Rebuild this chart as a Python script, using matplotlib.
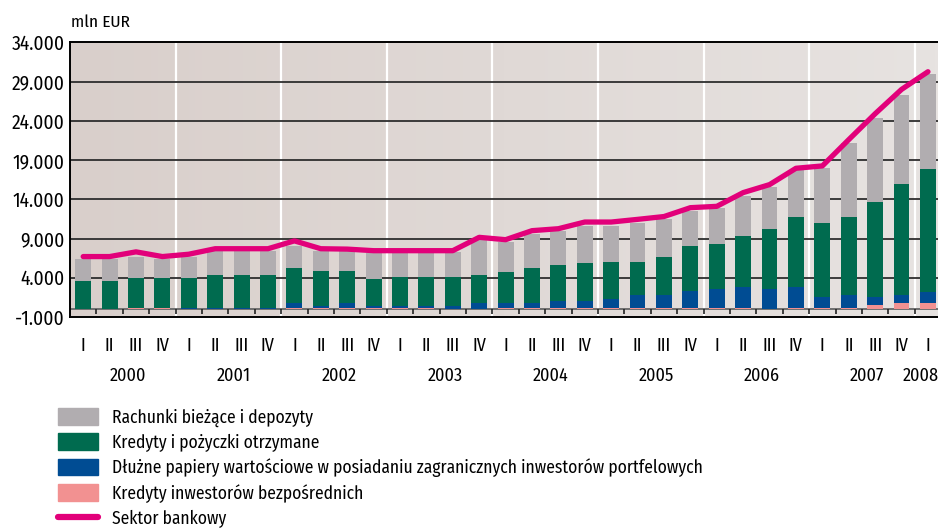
import numpy as np
import matplotlib
matplotlib.use('Agg')
import matplotlib.pyplot as plt
from matplotlib import font_manager as fm
from matplotlib.colors import LinearSegmentedColormap
from matplotlib.patches import Patch
from matplotlib.lines import Line2D

# a condensed sans if one is around, else Liberation Sans
available = set(f.name for f in fm.fontManager.ttflist)
candidates = ['Liberation Sans Narrow', 'Fira Sans Condensed', 'Roboto Condensed',
              'PT Sans Narrow', 'Open Sans Condensed', 'Encode Sans Condensed',
              'Barlow Semi Condensed', 'Asap Condensed', 'IBM Plex Sans Condensed']
font = next((c for c in candidates if c in available), None)
condensed = font is not None
if font is None:
    font = 'Liberation Sans'
plt.rcParams['font.family'] = [font, 'DejaVu Sans']
fs = 13 if condensed else 11

# data, mln EUR, quarters 2000 Q1 .. 2008 Q1
years = ['2000', '2001', '2002', '2003', '2004', '2005', '2006', '2007', '2008']
quarters = ['I', 'II', 'III', 'IV'] * 8 + ['I']

kredyty_bezp = [0, 0, 150, 150, 0, 0, 0, 0, 150, 150, 150, 150, 150, 150, 0, 0,
                150, 150, 150, 150, 150, 150, 150, 150, 150, 150, 0, 150, 150, 150,
                500, 750, 750]
papiery = [0, 0, 0, 0, 200, 200, 200, 200, 600, 300, 600, 300, 300, 300, 450, 750,
           600, 600, 850, 850, 1100, 1620, 1620, 2130, 2390, 2730, 2630, 2730, 1370,
           1620, 1020, 1020, 1410]
kredyty_poz = [3650, 3650, 3800, 3800, 3750, 4200, 4200, 4200, 4450, 4350, 4050, 3450,
               3700, 3700, 3700, 3650, 3920, 4550, 4570, 4820, 4820, 4300, 4820, 5710,
               5710, 6390, 7530, 8810, 9410, 9920, 12080, 14130, 15660]
rachunki = [2750, 2750, 2750, 2450, 2650, 3000, 3000, 3050, 2900, 2600, 2600, 3300,
            3050, 3050, 3150, 4450, 3830, 4300, 4380, 4780, 4530, 4900, 4850, 4510,
            4590, 5100, 5360, 6000, 7020, 9450, 10730, 11370, 12130]
sektor_bankowy = [6700, 6700, 7300, 6700, 7000, 7700, 7700, 7700, 8700, 7700, 7650,
                  7450, 7450, 7450, 7450, 9150, 8850, 10000, 10250, 11100, 11100,
                  11440, 11800, 12930, 13100, 14850, 15870, 17950, 18250, 21600,
                  24900, 28000, 30250]

labels = ['Rachunki bieżące i depozyty',
          'Kredyty i pożyczki otrzymane',
          'Dłużne papiery wartościowe w posiadaniu zagranicznych inwestorów portfelowych',
          'Kredyty inwestorów bezpośrednich',
          'Sektor bankowy']
c_gray, c_green, c_blue, c_pink, c_line = '#b1adb0', '#006b4f', '#004c93', '#f29191', '#e2007a'

x = np.arange(len(quarters))
pink = np.array(kredyty_bezp)
blue = np.array(papiery)
green = np.array(kredyty_poz)
gray = np.array(rachunki)

fig = plt.figure(figsize=(9.38, 5.30), dpi=100)
ax = fig.add_axes([70 / 938, 1 - 317 / 530, 868 / 938, (317 - 42.3) / 530])

xmin, xmax = -0.5, 32.38
ymin, ymax = -1000, 34000
bg = LinearSegmentedColormap.from_list('bg', ['#d9cfcb', '#e7e3e1'])
ax.imshow(np.linspace(0, 1, 256).reshape(1, -1), cmap=bg, aspect='auto',
          extent=[xmin, xmax, ymin, ymax], zorder=0)

# year separators
for b in np.arange(3.5, 32, 4):
    ax.axvline(b, color='white', lw=1.6, zorder=1)

# grid
for g in range(4000, 34000, 5000):
    ax.axhline(g, color='#2e2e2e', lw=1.3, zorder=1)
ax.axhline(0, color='#6f6f6f', lw=1.4, zorder=1)
ax.vlines(x[:-1] + 0.5, -650, 0, color='#222222', lw=1.2, zorder=1)

w = 0.6
ax.bar(x, pink, w, color=c_pink, zorder=2)
ax.bar(x, blue, w, bottom=pink, color=c_blue, zorder=2)
ax.bar(x, green, w, bottom=pink + blue, color=c_green, zorder=2)
ax.bar(x, gray, w, bottom=pink + blue + green, color=c_gray, zorder=2)
ax.plot(x, sektor_bankowy, color=c_line, lw=3.8, zorder=3, solid_capstyle='round')

ax.set_xlim(xmin, xmax)
ax.set_ylim(ymin, ymax)
yt = list(range(-1000, 34001, 5000))
ax.set_yticks(yt)
ax.set_yticklabels([f'{v:,}'.replace(',', '.') for v in yt], fontsize=fs + 1)
ax.tick_params(axis='y', length=0, pad=4)
ax.set_xticks(x)
ax.set_xticklabels(quarters, fontsize=fs)
ax.tick_params(axis='x', length=0, pad=14)
ax.spines['right'].set_visible(False)
for s in ['left', 'bottom', 'top']:
    ax.spines[s].set_linewidth(1.4)
    ax.spines[s].set_color('black')

year_pos = [4 * k + 1.7 for k in range(8)] + [31.74]
for yp, yl in zip(year_pos, years):
    ax.text(yp, -0.213, yl, transform=ax.get_xaxis_transform(), ha='center',
            va='center', fontsize=fs)

fig.text(71 / 938, 1 - 22 / 530, 'mln EUR', fontsize=fs - 0.5, va='center', ha='left')

handles = [Patch(color=c_gray), Patch(color=c_green), Patch(color=c_blue),
           Patch(color=c_pink), Line2D([], [], color=c_line, lw=4.5, solid_capstyle='round')]
lfs = fs - 0.4 if condensed else fs
px = lfs * 100 / 72
fig.legend(handles, labels, loc='upper left', bbox_to_anchor=(58 / 938, 1 - 408 / 530),
           frameon=False, fontsize=lfs, handlelength=40 / px,
           handleheight=19 / px, handletextpad=14 / px,
           labelspacing=6.8 / px, borderaxespad=0, borderpad=0)

fig.savefig('out.png', dpi=100)
